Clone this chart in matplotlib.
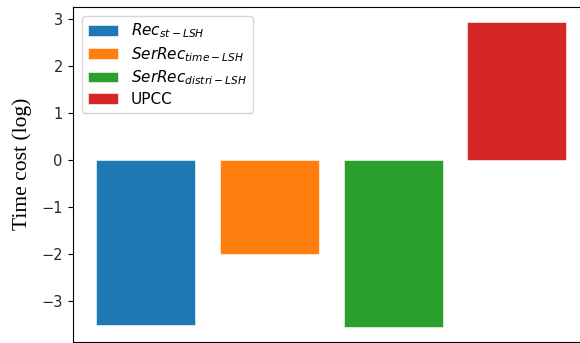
import numpy as np
import matplotlib.pyplot as plt

# log10 of running time for each method
methods = [r'$Rec_{st-LSH}$', r'$SerRec_{time-LSH}$', r'$SerRec_{distri-LSH}$', 'UPCC']
time_cost = [-3.51, -1.99, -3.54, 2.94]
colors = ['#1f77b4', '#ff7f0e', '#2ca02c', '#d62728']

fig = plt.figure(figsize=(5.8, 3.43), dpi=100)
ax = fig.add_axes([72.5 / 580, 1.0 / 343, 517.5 / 580, 335.5 / 343])

x = np.arange(len(methods))
for i in range(len(methods)):
    ax.bar(x[i], time_cost[i], width=0.8, color=colors[i], label=methods[i],
           edgecolor='white', linewidth=0.4)

ax.set_xticks([])
ax.set_yticks([-3, -2, -1, 0, 1, 2, 3])
ax.tick_params(axis='y', labelsize=10.5, labelcolor='#262626')
ax.set_ylabel('Time cost (log)', family='Liberation Serif', fontsize=15.5)
ax.yaxis.set_label_coords(-0.079, 0.532)
ax.legend(loc='upper left', fontsize=11, labelspacing=0.3,
          borderaxespad=0.6)

plt.savefig('out.png', dpi=100)
